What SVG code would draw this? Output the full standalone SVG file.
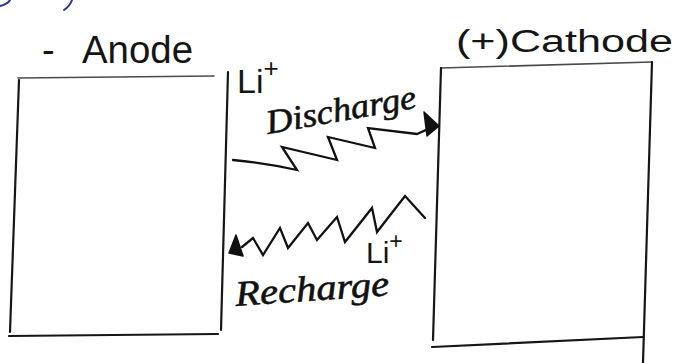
<svg xmlns="http://www.w3.org/2000/svg" width="680" height="363" viewBox="0 0 680 363">
  <style>
    .edge { fill: none; stroke: #161616; stroke-width: 2.2; stroke-linecap: round; stroke-linejoin: round; }
    .rim { fill: none; stroke: #4a4a4a; stroke-width: 1.6; stroke-linecap: round; }
    .wave { fill: none; stroke: #111; stroke-width: 2.3; stroke-linecap: round; stroke-linejoin: miter; }
    .head { fill: #111; stroke: #111; stroke-width: 1.5; stroke-linejoin: round; }
    .print { font-family: "Liberation Sans", "DejaVu Sans", sans-serif; fill: #151515; }
    .script { font-family: "Liberation Serif", "DejaVu Serif", serif; font-style: italic; fill: #111; stroke: #111; stroke-width: 0.6; }
    .ink { fill: none; stroke: #2a3a8a; stroke-width: 2; stroke-linecap: round; }
  </style>
  <rect width="680" height="363" fill="#ffffff"/>

  <!-- pen strokes left over from the line above -->
  <path class="ink" d="M0,6 Q8,4 10,0"/>
  <path class="ink" d="M64,10 Q70,6 72,0"/>

  <!-- negative electrode -->
  <g id="anode">
    <path class="rim" d="M18,78 L214,76"/>
    <path class="edge" d="M19,80 L10,332"/>
    <path class="edge" d="M9,336 L218,334"/>
    <path class="edge" d="M228,72 L221,330"/>
    <text class="print" x="42" y="63" font-size="38">- <tspan x="82" textLength="111" lengthAdjust="spacingAndGlyphs">Anode</tspan></text>
  </g>

  <!-- positive electrode -->
  <g id="cathode">
    <path class="rim" d="M441,68 L652,62"/>
    <path class="edge" d="M441,68 L433,340"/>
    <path class="edge" d="M432,347 L643,337"/>
    <path class="edge" d="M652,62 L643,363"/>
    <text class="print" x="456" y="52" font-size="31" textLength="217" lengthAdjust="spacingAndGlyphs">(+)Cathode</text>
  </g>

  <!-- ion flow between the electrodes -->
  <g id="connectors">
    <!-- discharge: anode to cathode -->
    <path class="wave" d="M233,160 Q265,163 297,170 L282,147 L337,160 L328,137 L375,148 L368,128 L417,134 L428,129"/>
    <polygon class="head" points="424,112 439,126 427,136"/>
    <text class="print" x="237" y="93" font-size="34">Li<tspan dy="-16" font-size="26">+</tspan></text>
    <text class="script" x="268" y="134" font-size="34" transform="rotate(-10 268 134)" textLength="152" lengthAdjust="spacingAndGlyphs">Discharge</text>

    <!-- recharge: cathode to anode -->
    <path class="wave" d="M242,247 L253,238 L263,255 L280,228 L288,248 L308,223 L317,240 L337,217 L345,242 L372,208 L377,232 L405,196 L425,218"/>
    <polygon class="head" points="236,235 229,253 243,256"/>
    <text class="print" x="366" y="263" font-size="30">Li<tspan dy="-14" font-size="23">+</tspan></text>
    <text class="script" x="236" y="306" font-size="36" transform="rotate(-4 236 306)" textLength="154" lengthAdjust="spacingAndGlyphs">Recharge</text>
  </g>
</svg>
